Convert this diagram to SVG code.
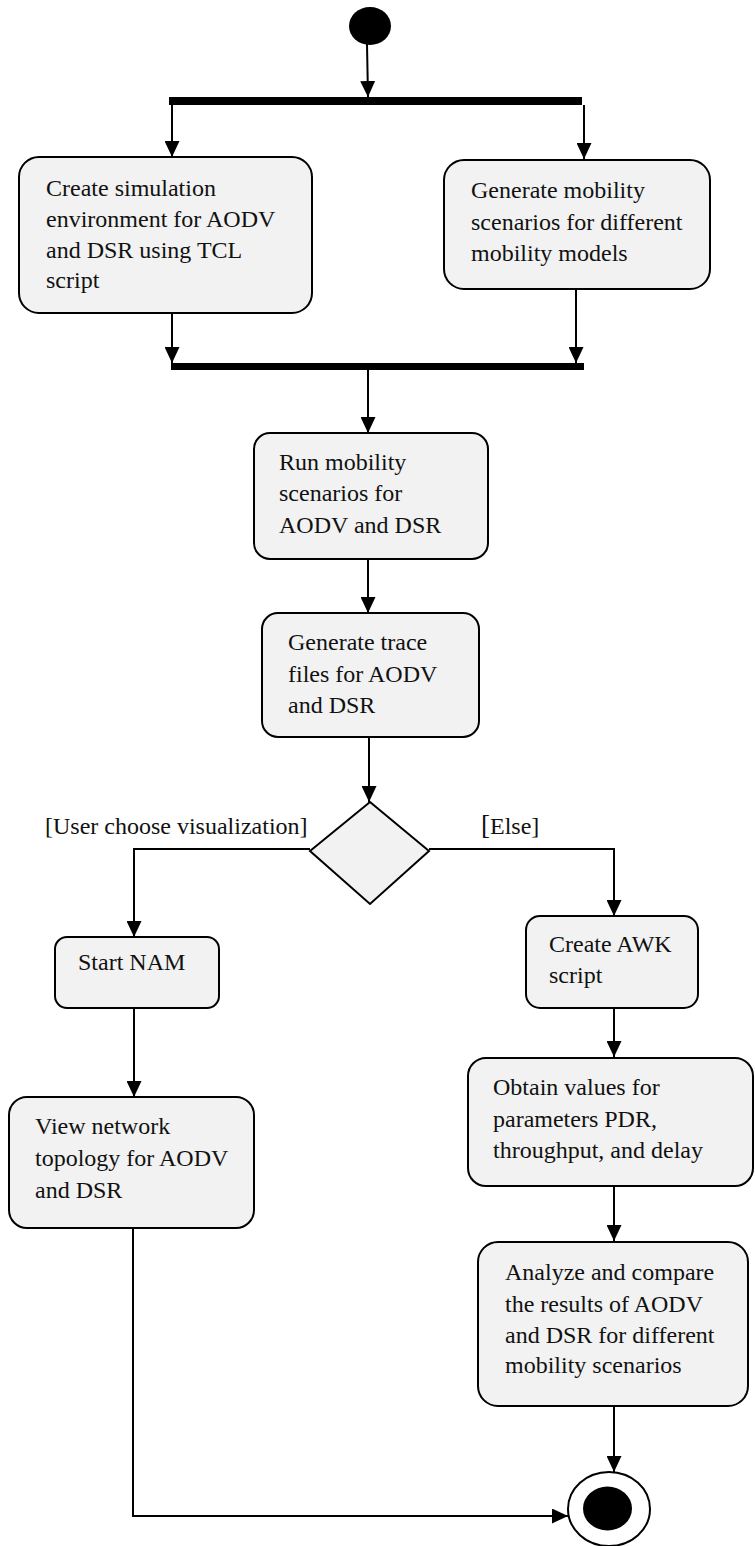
<svg xmlns="http://www.w3.org/2000/svg" width="755" height="1546" viewBox="0 0 755 1546">
  <style>
    .act { fill: #f2f2f2; stroke: #000; stroke-width: 2; }
    .lbl { font-family: "Liberation Serif", "Times New Roman", serif; font-size: 24px; fill: #111; }
    .edge { fill: none; stroke: #000; stroke-width: 2; }
    .bar { fill: #000; }
  </style>
  <defs>
    <marker id="arrow" markerUnits="userSpaceOnUse" markerWidth="16" markerHeight="15" refX="16" refY="7.5" orient="auto">
      <path d="M0,0 L16,7.5 L0,15 z" fill="#000"/>
    </marker>
  </defs>
  <rect width="755" height="1546" fill="#fff"/>

  <!-- connectors -->
  <g id="connectors" class="edge" marker-end="url(#arrow)">
    <path d="M367,44 L368,97"/>
    <path d="M172,105 L172,157"/>
    <path d="M584,105 L584,159"/>
    <path d="M172,313 L172,363"/>
    <path d="M576,289 L576,363"/>
    <path d="M368,370 L368,433"/>
    <path d="M368,559 L368,613"/>
    <path d="M369,737 L369,802"/>
    <path d="M310,849 L134,849 L134,937"/>
    <path d="M429,849 L614,849 L614,916"/>
    <path d="M134,1008 L134,1097"/>
    <path d="M614,1008 L614,1057"/>
    <path d="M614,1186 L614,1241"/>
    <path d="M614,1406 L614,1472"/>
    <path d="M133,1228 L133,1516 L568,1516"/>
  </g>

  <!-- initial node -->
  <g id="start">
    <ellipse cx="370" cy="26" rx="21" ry="19" fill="#000"/>
  </g>

  <!-- fork / join bars -->
  <g id="fork">
    <rect class="bar" x="169" y="97" width="413" height="8"/>
  </g>
  <g id="join">
    <rect class="bar" x="171" y="363" width="413" height="7"/>
  </g>

  <g id="create-sim">
    <rect class="act" x="19" y="157" width="293" height="156" rx="20"/>
    <text class="lbl" x="46" y="196">Create simulation</text>
    <text class="lbl" x="46" y="227">environment for AODV</text>
    <text class="lbl" x="46" y="258">and DSR using TCL</text>
    <text class="lbl" x="46" y="288">script</text>
  </g>

  <g id="gen-mobility">
    <rect class="act" x="444" y="160" width="266" height="129" rx="20"/>
    <text class="lbl" x="471" y="198">Generate mobility</text>
    <text class="lbl" x="471" y="230">scenarios for different</text>
    <text class="lbl" x="471" y="261">mobility models</text>
  </g>

  <g id="run-mobility">
    <rect class="act" x="254" y="433" width="234" height="126" rx="16"/>
    <text class="lbl" x="279" y="470">Run mobility</text>
    <text class="lbl" x="279" y="501">scenarios for</text>
    <text class="lbl" x="279" y="533">AODV and DSR</text>
  </g>

  <g id="gen-trace">
    <rect class="act" x="262" y="613" width="217" height="124" rx="16"/>
    <text class="lbl" x="288" y="650">Generate trace</text>
    <text class="lbl" x="288" y="682">files for AODV</text>
    <text class="lbl" x="288" y="713">and DSR</text>
  </g>

  <g id="decision">
    <path class="act" d="M370,802 L429,851 L370,904 L310,851 z"/>
    <text class="lbl" x="45" y="834">[User choose visualization]</text>
    <text class="lbl" x="481" y="834"><tspan font-size="27px">[</tspan>Else]</text>
  </g>

  <g id="start-nam">
    <rect class="act" x="55" y="937" width="164" height="71" rx="12"/>
    <text class="lbl" x="78" y="970">Start NAM</text>
  </g>

  <g id="create-awk">
    <rect class="act" x="526" y="916" width="172" height="92" rx="14"/>
    <text class="lbl" x="549" y="952">Create AWK</text>
    <text class="lbl" x="549" y="983">script</text>
  </g>

  <g id="view-topology">
    <rect class="act" x="9" y="1097" width="245" height="131" rx="18"/>
    <text class="lbl" x="35" y="1134">View network</text>
    <text class="lbl" x="35" y="1166">topology for AODV</text>
    <text class="lbl" x="35" y="1198">and DSR</text>
  </g>

  <g id="obtain-values">
    <rect class="act" x="468" y="1058" width="285" height="128" rx="18"/>
    <text class="lbl" x="493" y="1095">Obtain values for</text>
    <text class="lbl" x="493" y="1127">parameters PDR,</text>
    <text class="lbl" x="493" y="1158">throughput, and delay</text>
  </g>

  <g id="analyze">
    <rect class="act" x="478" y="1242" width="270" height="164" rx="20"/>
    <text class="lbl" x="505" y="1280">Analyze and compare</text>
    <text class="lbl" x="505" y="1312">the results of AODV</text>
    <text class="lbl" x="505" y="1343">and DSR for different</text>
    <text class="lbl" x="505" y="1373">mobility scenarios</text>
  </g>

  <!-- final node -->
  <g id="end">
    <ellipse cx="609" cy="1509" rx="41" ry="37" fill="#fff" stroke="#000" stroke-width="2"/>
    <ellipse cx="607.5" cy="1508.5" rx="24.5" ry="22" fill="#000"/>
  </g>
</svg>
